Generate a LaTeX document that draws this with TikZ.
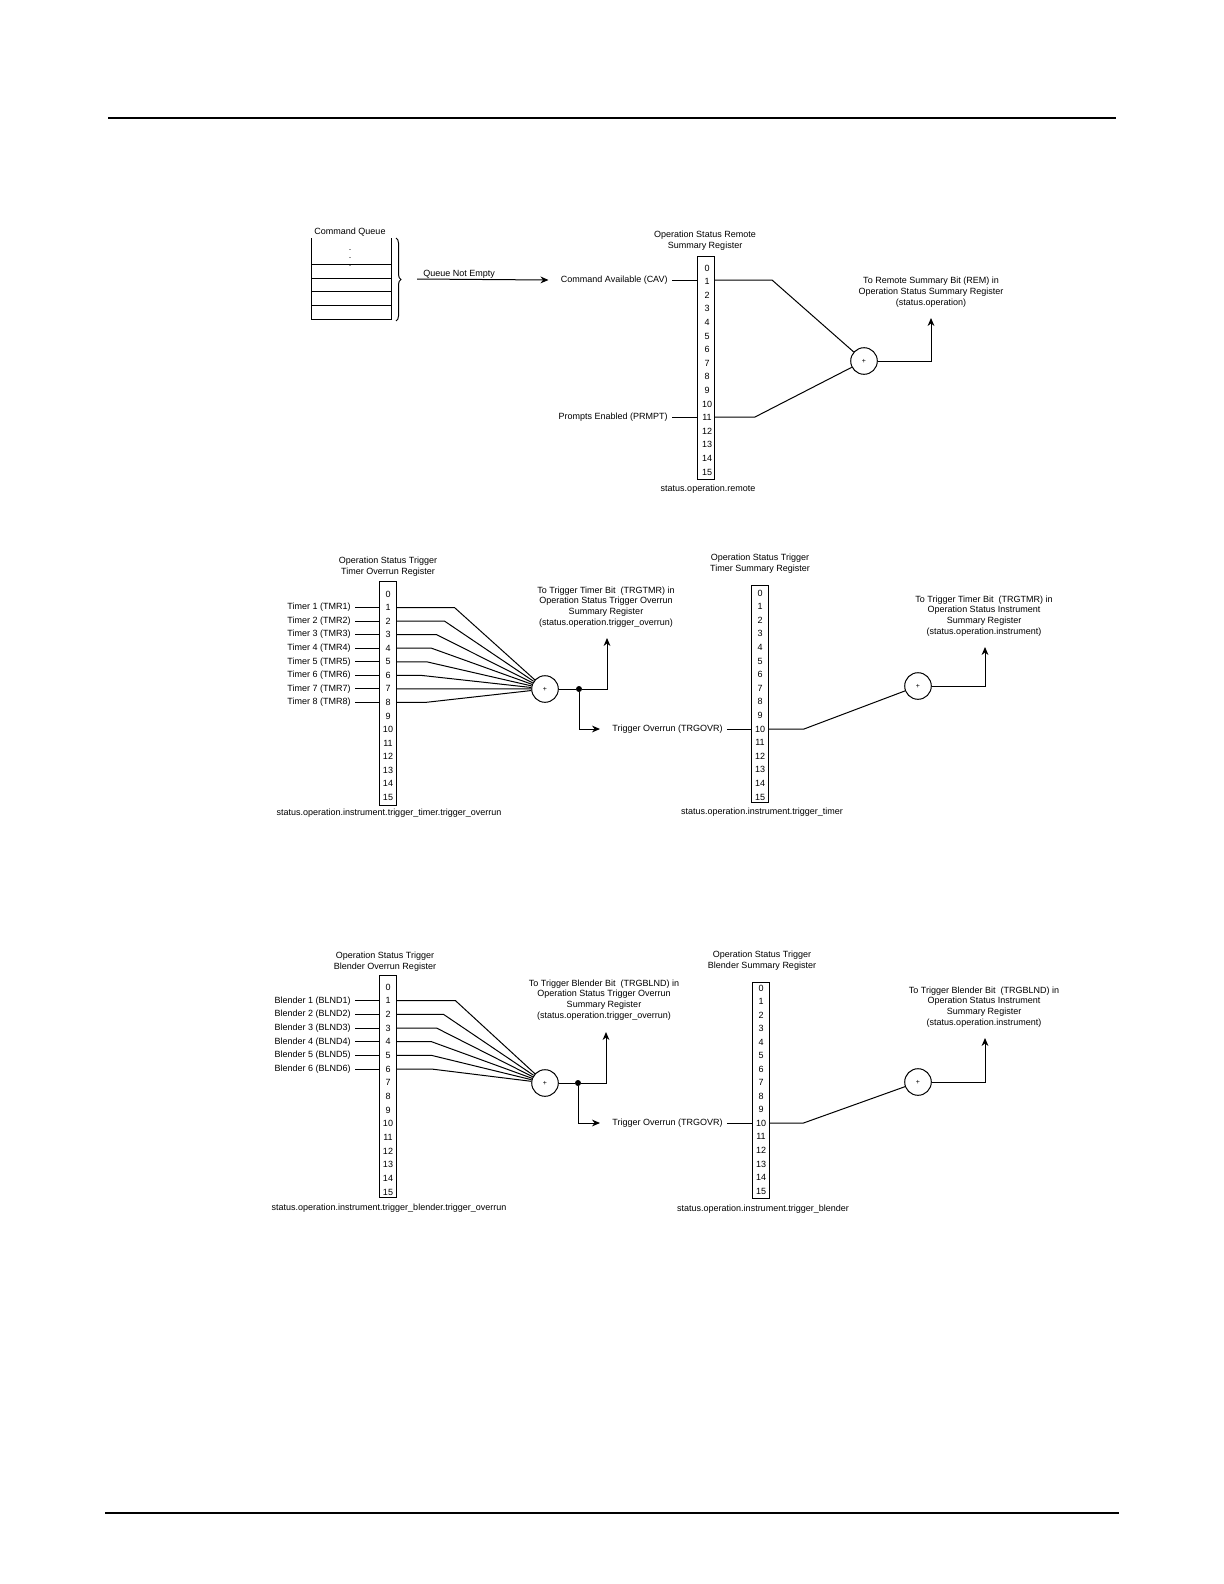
\documentclass[tikz,border=0pt]{standalone}
\usepackage{fontspec}
\setmainfont{Liberation Sans}
\usetikzlibrary{arrows.meta, decorations.pathreplacing}
\tikzset{
  txt/.style={font=\fontsize{4.5}{5.4}\selectfont, inner sep=2pt},
  note/.style={txt, align=center},
  bitn/.style={txt, inner sep=0pt},
  regbox/.style={draw, line width=0.5pt, minimum width=8.5pt, inner sep=0pt},
  sumc/.style={draw, circle, line width=0.5pt, minimum size=13.3pt, inner sep=0pt,
               font=\fontsize{3.5}{4}\selectfont},
  jdot/.style={circle, fill, minimum size=3pt, inner sep=0pt},
  wire/.style={line width=0.5pt},
  warr/.style={wire, -{Stealth[length=4pt, width=3.4pt]}},
}
\begin{document}
\begin{tikzpicture}[x=0.5pt, y=-0.5pt]
  \useasboundingbox (0,0) rectangle (1224,1584);
  % page rules
  \draw[line width=0.6pt] (108,118) -- (1116,118);
  \draw[line width=1pt] (105,1513) -- (1119,1513);

  % command queue -> remote register
  \node[txt] (cq) at (350,232) {Command Queue};
  \draw[wire] (311,238) -- (311,319) -- (391,319) -- (391,238);
  \foreach \y in {264,278,291,305} \draw[wire] (311,\y) -- (391,\y);
  \node[bitn] (qdots) at (350,252) {$\vdots$};
  \draw[wire, decorate, decoration={brace, amplitude=2.5pt}] (396,238) -- (396,321);
  \coordinate (qs) at (417,279);
  \node[txt, anchor=base west, inner sep=0pt] (qne) at (423,276) {Queue Not Empty};
  \node[txt, anchor=east] (cav) at (672,280) {Command Available (CAV)};
  \draw[warr] (qs) -- ([xshift=-4pt]cav.west);
  \node[note] (t1) at (705,241) {Operation Status Remote\\Summary Register};
  \node[regbox, minimum height=111.5pt] (r1) at (706,367.5) {};
  \foreach \b in {0,...,15} \node[bitn] (r1b\b) at (707,268+13.6*\b) {\b};
  \node[txt, anchor=east] (prm) at (672,417) {Prompts Enabled (PRMPT)};
  \draw[wire] (cav.east) -- (cav.east -| r1.west);
  \draw[wire] (prm.east) -- (prm.east -| r1.west);
  \node[sumc] (sum1) at (864,361) {+};
  \draw[wire] (cav.east -| r1.east) -- ++(57,0) -- (sum1);
  \draw[wire] (prm.east -| r1.east) -- ++(40,0) -- (sum1);
  \coordinate (tip1) at (931,318);
  \draw[warr] (sum1) -| (tip1);
  \node[note] (n1) at (931,292) {To Remote Summary Bit (REM) in\\Operation Status Summary Register\\(status.operation)};
  \node[txt] (s1) at (708,489) {status.operation.remote};

  % timer overrun
  \node[note] (t2) at (388,567) {Operation Status Trigger\\Timer Overrun Register};
  \node[regbox, minimum height=112pt] (r2) at (387.5,693) {};
  \foreach \b in {0,...,15} \node[bitn] (r2b\b) at (388,594+13.55*\b) {\b};
  \node[sumc] (sum2) at (545,689) {+};
  \foreach \k/\dx in {1/58,2/48,3/40,4/35,5/30,6/24,7/24,8/29} {
    \node[txt, anchor=east] (tmr\k) at (355,594+13.55*\k) {Timer \k\ (TMR\k)};
    \draw[wire] (tmr\k.east) -- (tmr\k.east -| r2.west);
    \draw[wire] (tmr\k.east -| r2.east) -- ++(\dx,0) -- (sum2);
  }
  \node[jdot] (j2) at (579,689) {};
  \draw[wire] (sum2) -- (j2);
  \coordinate (tip2) at (607,638);
  \draw[warr] (j2) -| (tip2);
  \node[note] (n2) at (606,607) {To Trigger Timer Bit\ \ (TRGTMR) in\\Operation Status Trigger Overrun\\Summary Register\\(status.operation.trigger\_overrun)};
  \node[txt, anchor=west] (ovr2) at (608,729) {Trigger Overrun (TRGOVR)};
  \draw[warr] (j2) |- ([xshift=-4pt]ovr2.west);
  \node[txt] (s2) at (389,813) {status.operation.instrument.trigger\_timer.trigger\_overrun};

  % timer summary
  \node[note] (t3) at (760,564) {Operation Status Trigger\\Timer Summary Register};
  \node[regbox, minimum height=108.5pt] (r3) at (760,693.5) {};
  \foreach \b in {0,...,15} \node[bitn] (r3b\b) at (760,593+13.6*\b) {\b};
  \draw[wire] (ovr2.east) -- (ovr2.east -| r3.west);
  \node[sumc] (sum3) at (918,686) {+};
  \draw[wire] (ovr2.east -| r3.east) -- ++(35,0) -- (sum3);
  \coordinate (tip3) at (985,647);
  \draw[warr] (sum3) -| (tip3);
  \node[note] (n3) at (984,616) {To Trigger Timer Bit\ \ (TRGTMR) in\\Operation Status Instrument\\Summary Register\\(status.operation.instrument)};
  \node[txt] (s3) at (762,812) {status.operation.instrument.trigger\_timer};

  % blender overrun
  \node[note] (t4) at (385,962) {Operation Status Trigger\\Blender Overrun Register};
  \node[regbox, minimum height=111pt] (r4) at (387.5,1086) {};
  \foreach \b in {0,...,15} \node[bitn] (r4b\b) at (388,987+13.67*\b) {\b};
  \node[sumc] (sum4) at (545,1083) {+};
  \foreach \k/\dx in {1/59,2/47,3/40,4/35,5/35,6/35} {
    \node[txt, anchor=east] (bld\k) at (355,987+13.67*\k) {Blender \k\ (BLND\k)};
    \draw[wire] (bld\k.east) -- (bld\k.east -| r4.west);
    \draw[wire] (bld\k.east -| r4.east) -- ++(\dx,0) -- (sum4);
  }
  \node[jdot] (j4) at (578,1083) {};
  \draw[wire] (sum4) -- (j4);
  \coordinate (tip4) at (606,1032);
  \draw[warr] (j4) -| (tip4);
  \node[note] (n4) at (604,1000) {To Trigger Blender Bit\ \ (TRGBLND) in\\Operation Status Trigger Overrun\\Summary Register\\(status.operation.trigger\_overrun)};
  \node[txt, anchor=west] (ovr4) at (608,1123) {Trigger Overrun (TRGOVR)};
  \draw[warr] (j4) |- ([xshift=-4pt]ovr4.west);
  \node[txt] (s4) at (389,1208) {status.operation.instrument.trigger\_blender.trigger\_overrun};

  % blender summary
  \node[note] (t5) at (762,961) {Operation Status Trigger\\Blender Summary Register};
  \node[regbox, minimum height=108pt] (r5) at (760.5,1090) {};
  \foreach \b in {0,...,15} \node[bitn] (r5b\b) at (761,988+13.53*\b) {\b};
  \draw[wire] (ovr4.east) -- (ovr4.east -| r5.west);
  \node[sumc] (sum5) at (918,1082) {+};
  \draw[wire] (ovr4.east -| r5.east) -- ++(34,0) -- (sum5);
  \coordinate (tip5) at (985,1038);
  \draw[warr] (sum5) -| (tip5);
  \node[note] (n5) at (984,1007) {To Trigger Blender Bit\ \ (TRGBLND) in\\Operation Status Instrument\\Summary Register\\(status.operation.instrument)};
  \node[txt] (s5) at (763,1209) {status.operation.instrument.trigger\_blender};
\end{tikzpicture}
\end{document}
